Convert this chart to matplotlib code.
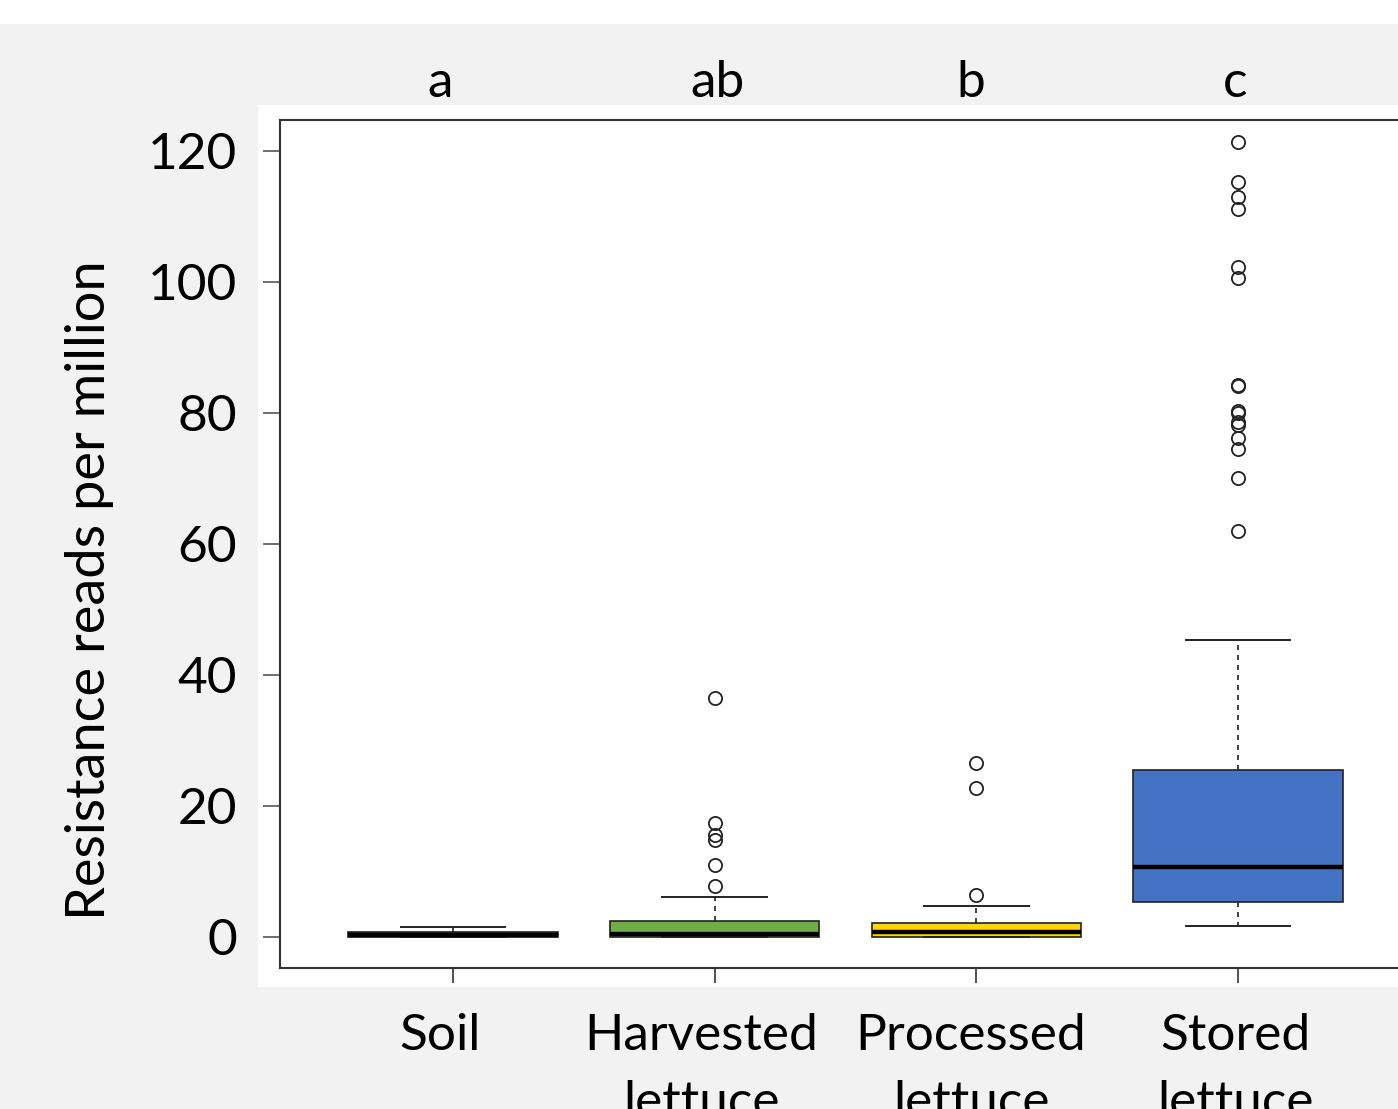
import matplotlib.pyplot as plt
from matplotlib.patches import Rectangle
from matplotlib.transforms import blended_transform_factory

plt.rcParams['font.family'] = ['Lato', 'DejaVu Sans']

# dados
grupos = ['Soil', 'Harvested\nlettuce', 'Processed\nlettuce', 'Stored\nlettuce']
letras = ['a', 'ab', 'b', 'c']
cores = ['#3a3a3a', '#70ad47', '#ffd700', '#4472c4']

minimos = [0.0, 0.0, 0.0, 1.6]
q1 = [0.0, 0.0, 0.0, 5.35]
medianas = [0.2, 0.4, 0.65, 10.7]
q3 = [0.75, 2.45, 2.1, 25.5]
maximos = [1.5, 6.1, 4.7, 45.3]
outliers = [
    [],
    [7.7, 10.9, 14.7, 15.5, 17.4, 36.5],
    [6.4, 22.7, 26.5],
    [62.0, 70.0, 74.5, 76.1, 78.1, 78.6, 79.9, 80.3, 84.1, 84.3,
     100.6, 102.3, 111.1, 113.0, 115.3, 121.3],
]
yticks = [0, 20, 40, 60, 80, 100, 120]

W, H = 1398, 1109
fig = plt.figure(figsize=(W / 100, H / 100), dpi=100)
fig.patch.set_facecolor('white')
# fundo cinza e painel branco
fig.add_artist(Rectangle((0, 0), 1, 1 - 24 / H, transform=fig.transFigure,
                         facecolor='#f2f2f2', edgecolor='none', zorder=-10))
fig.add_artist(Rectangle((258 / W, 1 - 987 / H), 1, (987 - 105) / H,
                         transform=fig.transFigure, facecolor='white',
                         edgecolor='none', zorder=-9))

ax = fig.add_axes([280 / W, 1 - 968 / H, (1411 - 280) / W, (968 - 120) / H])
ax.patch.set_alpha(0)

stats = []
for i in range(4):
    stats.append({'whislo': minimos[i], 'q1': q1[i], 'med': medianas[i],
                  'q3': q3[i], 'whishi': maximos[i], 'fliers': outliers[i]})

bp = ax.bxp(stats, positions=[1, 2, 3, 4], widths=0.8, patch_artist=True,
            boxprops=dict(linewidth=1.2, edgecolor='#222222'),
            medianprops=dict(color='black', linewidth=3.2),
            whiskerprops=dict(color='#222222', linewidth=1.2, linestyle=(0, (3, 3))),
            capprops=dict(color='#222222', linewidth=1.4),
            flierprops=dict(marker='o', markersize=9.5, markerfacecolor='none',
                            markeredgecolor='#222222', markeredgewidth=1.3))
for caixa, cor in zip(bp['boxes'], cores):
    caixa.set_facecolor(cor)

ax.set_xlim(0.339, 4.661)
ax.set_ylim(-4.8, 124.7)
ax.set_yticks(yticks)
ax.set_yticklabels([str(v) for v in yticks], fontsize=37)
ax.set_xticks([1, 2, 3, 4])
ax.set_xticklabels([])
ax.tick_params(axis='y', length=12, width=1.2, color='#555555', pad=19)
ax.tick_params(axis='x', length=11, width=1.2, color='#333333')
for s in ax.spines.values():
    s.set_color('#333333')
    s.set_linewidth(1.5)

trans = blended_transform_factory(ax.transData, fig.transFigure)
label_x = [0.95, 1.95, 2.98, 3.99]
for x, g in zip(label_x, grupos):
    for k, linha in enumerate(g.split('\n')):
        ax.text(x, 1 - (1050 + 67 * k) / H, linha, transform=trans,
                ha='center', va='baseline', fontsize=37)

letra_x = [0.95, 2.01, 2.98, 3.99]
for x, l in zip(letra_x, letras):
    ax.text(x, 1 - 97 / H, l, transform=trans, ha='center', va='baseline',
            fontsize=37)

fig.text(90 / W, 1 - 590 / H, 'Resistance reads per million', rotation=90,
         ha='center', va='center', fontsize=39)

fig.savefig('out.png', dpi=100)
